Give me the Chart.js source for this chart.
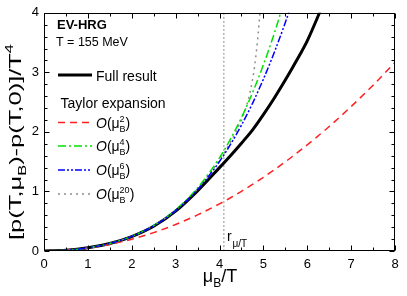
<!DOCTYPE html>
<html><head><meta charset="utf-8">
<script src="https://cdn.jsdelivr.net/npm/chart.js@4.4.1/dist/chart.umd.min.js"></script>
<style>html,body{margin:0;padding:0;background:#fff;}#wrap{width:407px;height:296px;position:relative;}</style>
</head><body><div id="wrap"><canvas id="c" width="407" height="296"></canvas></div>
<script>
// mu_B/T grid
const muGrid = [0,0.5,1,1.5,2,2.5,3,3.5,4,4.25,4.5,4.75,5,5.25,5.5,5.75,6,6.25,6.5,7,7.5,8];
const fullResult = [0,0.012,0.053,0.126,0.243,0.415,0.67,1.01,1.40,1.60,1.81,2.03,2.29,2.57,2.87,3.19,3.53,3.95,4.4,null,null,null];
const taylorO2  = [0,0.012,0.05,0.111,0.198,0.309,0.446,0.606,0.792,0.894,1.002,1.117,1.238,1.364,1.497,1.637,1.782,1.934,2.091,2.426,2.784,3.168];
const taylorO4  = [0,0.012,0.053,0.127,0.246,0.427,0.690,1.059,1.565,1.879,2.240,2.653,3.125,3.658,4.260,null,null,null,null,null,null,null];
const taylorO6  = [0,0.012,0.053,0.127,0.245,0.423,0.679,1.031,1.502,1.789,2.113,2.476,2.886,3.338,3.836,4.384,null,null,null,null,null,null];
const muGridO20 = [0,0.5,1,1.5,2,2.5,3,3.5,4,4.25,4.5,4.6,4.7,4.8,4.9,5.0];
const taylorO20 = [0,0.012,0.053,0.127,0.245,0.424,0.682,1.04,1.53,1.83,2.20,2.40,2.68,3.10,3.80,4.8];
const rMuT = [4.1];
const xTicks = [0,1,2,3,4,5,6,7,8];
const yTicks = [0,1,2,3,4];

const F = '"Liberation Sans", Arial, Helvetica, sans-serif';
const pts = (xs, ys) => xs.map((x, i) => ({x: x, y: ys[i]}));

const styles = {
  full: {color:'#000000', width:3, dash:[]},
  o2:   {color:'#ff2020', width:1.5, dash:[7,5]},
  o4:   {color:'#00e000', width:1.5, dash:[8,3,2,3]},
  o6:   {color:'#0000ff', width:1.5, dash:[7,2,2,2,2,2]},
  o20:  {color:'#8c8c8c', width:1.5, dash:[2,4]}
};
function ds(label, data, st, order) {
  return {label, data, borderColor: st.color, borderWidth: st.width, borderDash: st.dash,
    pointRadius: 0, fill: false, cubicInterpolationMode: 'monotone', order, spanGaps: false};
}

function measureParts(ctx, parts) {
  let w = 0;
  for (const p of parts) {
    if (p.stack) {
      ctx.font = p.font; w += Math.max(ctx.measureText(p.sup).width, ctx.measureText(p.sub).width);
    } else { ctx.font = p.font; w += ctx.measureText(p.t).width; }
  }
  return w;
}
function drawParts(ctx, x, y, parts) {
  ctx.textAlign = 'left'; ctx.textBaseline = 'alphabetic';
  for (const p of parts) {
    ctx.font = p.font;
    if (p.stack) {
      ctx.fillText(p.sup, x, y + p.supDy);
      ctx.fillText(p.sub, x, y + p.subDy);
      x += Math.max(ctx.measureText(p.sup).width, ctx.measureText(p.sub).width);
    } else {
      ctx.fillText(p.t, x, y + (p.dy || 0));
      x += ctx.measureText(p.t).width;
    }
  }
}
function orderLabel(n) {
  return [
    {t:'O', font:'italic 14px ' + F},
    {t:'(', font:'14px ' + F},
    {t:'\u03BC', font:'14px ' + F},
    {stack:true, sup:n, sub:'B', font:'9px ' + F, supDy:-6, subDy:4},
    {t:')', font:'14px ' + F}
  ];
}

const decor = {
  id: 'decor',
  afterDraw(chart) {
    const ctx = chart.ctx, a = chart.chartArea, xs = chart.scales.x, ys = chart.scales.y;
    ctx.save();
    ctx.strokeStyle = '#000'; ctx.lineWidth = 1; ctx.setLineDash([]);
    const L = Math.round(a.left) + 0.5, R = Math.round(a.right) - 0.5, T = Math.round(a.top) + 0.5, B = Math.round(a.bottom) - 0.5;
    ctx.strokeRect(L, T, R - L, B - T);
    ctx.beginPath();
    for (let v = 0; v <= 8.001; v += 0.5) {
      const px = Math.round(xs.getPixelForValue(v)) + 0.5;
      const len = Math.abs(v - Math.round(v)) < 1e-6 ? 5 : 3;
      ctx.moveTo(px, B); ctx.lineTo(px, B - len);
      ctx.moveTo(px, T); ctx.lineTo(px, T + len);
    }
    for (let k = 0; k <= 20; k++) {
      const v = k * 0.2;
      const py = Math.round(ys.getPixelForValue(v)) + 0.5;
      const len = k % 5 === 0 ? 5 : 3;
      ctx.moveTo(L, py); ctx.lineTo(L + len, py);
      ctx.moveTo(R, py); ctx.lineTo(R - len, py);
    }
    ctx.stroke();

    ctx.fillStyle = '#000';
    // header texts
    ctx.font = 'bold 13px ' + F; ctx.textAlign = 'left'; ctx.textBaseline = 'alphabetic';
    ctx.fillText('EV-HRG', 57, 28.5);
    ctx.font = '12.5px ' + F;
    ctx.fillText('T = 155 MeV', 56, 45.5);
    // legend
    const lx0 = 58, lx1 = 92, tx = 96;
    function sample(st, y) {
      ctx.save(); ctx.strokeStyle = st.color; ctx.lineWidth = st.width; ctx.setLineDash(st.dash);
      ctx.beginPath(); ctx.moveTo(lx0, y); ctx.lineTo(lx1, y); ctx.stroke(); ctx.restore();
    }
    sample(styles.full, 75);
    ctx.font = '14px ' + F; ctx.fillText('Full result', tx, 80.5);
    ctx.fillText('Taylor expansion', 60.5, 107.5);
    const rows = [[styles.o2,'2',122.5],[styles.o4,'4',146],[styles.o6,'6',170],[styles.o20,'20',194]];
    for (const [st, n, y] of rows) { sample(st, y); drawParts(ctx, tx, y + 5, orderLabel(n)); }

    // r label
    ctx.font = '14px ' + F; ctx.fillStyle = '#000';
    ctx.fillText('r', 227, 241);
    ctx.font = '10px ' + F;
    ctx.fillText('\u03BC/T', 232.5, 247);

    // x title
    const xt = [
      {t:'\u03BC', font:'18px ' + F},
      {t:'B', font:'12px ' + F, dy:5},
      {t:'/T', font:'18px ' + F}
    ];
    const xw = measureParts(ctx, xt);
    drawParts(ctx, 220 - xw / 2, 282, xt);

    // y title
    const yt = [
      {t:'[p(T,\u03BC', font:'17px ' + F},
      {t:'B', font:'11px ' + F, dy:5},
      {t:')-p(T,0)]/T', font:'17px ' + F},
      {t:'4', font:'11px ' + F, dy:-8}
    ];
    const yw = measureParts(ctx, yt);
    const target = 196;
    const sx = target / yw;
    ctx.save();
    ctx.translate(21, 142);
    ctx.rotate(-Math.PI / 2);
    ctx.scale(sx, 1);
    drawParts(ctx, -yw / 2, 0, yt);
    ctx.restore();
    ctx.restore();
  }
};

new Chart(document.getElementById('c'), {
  type: 'line',
  data: {
    datasets: [
      ds('r', [{x:rMuT[0], y:0}, {x:rMuT[0], y:4}], {color:'#8c8c8c', width:1, dash:[2,2]}, 6),
      ds('Full result', pts(muGrid, fullResult), styles.full, 5),
      ds('O2', pts(muGrid, taylorO2), styles.o2, 4),
      ds('O4', pts(muGrid, taylorO4), styles.o4, 2),
      ds('O6', pts(muGrid, taylorO6), styles.o6, 1),
      ds('O20', pts(muGridO20, taylorO20), styles.o20, 3)
    ]
  },
  options: {
    responsive: false, animation: false, devicePixelRatio: 1,
    layout: {padding: {top: 7, right: 12, left: 0, bottom: 0}},
    plugins: {legend: {display: false}, tooltip: {enabled: false}},
    scales: {
      x: {type: 'linear', min: 0, max: 8,
        afterBuildTicks: s => { s.ticks = xTicks.map(v => ({value: v})); },
        afterFit: s => { s.height = 45; },
        grid: {display: false, drawTicks: false}, border: {display: false},
        ticks: {color: '#000', font: {family: F, size: 13}, padding: 6, maxRotation: 0}},
      y: {type: 'linear', min: 0, max: 4,
        afterBuildTicks: s => { s.ticks = yTicks.map(v => ({value: v})); },
        afterFit: s => { s.width = 44; },
        grid: {display: false, drawTicks: false}, border: {display: false},
        ticks: {color: '#000', font: {family: F, size: 13}, padding: 5}}
    }
  },
  plugins: [decor]
});
</script>
</body></html>
